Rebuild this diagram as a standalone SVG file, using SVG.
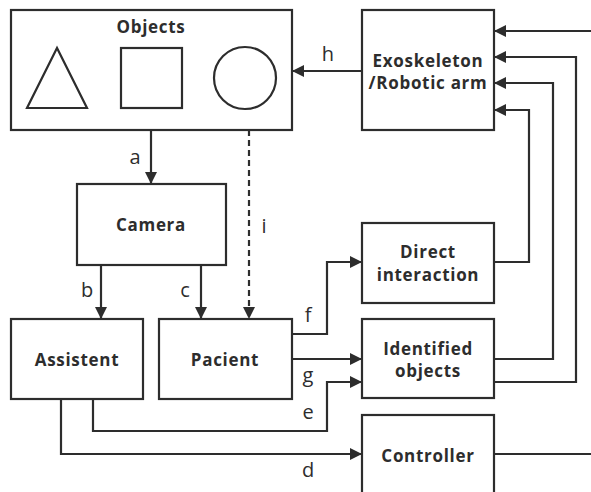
<svg xmlns="http://www.w3.org/2000/svg" width="591" height="492" viewBox="0 0 591 492">
<defs>
<marker id="ah" markerUnits="userSpaceOnUse" markerWidth="14" markerHeight="14" viewBox="0 0 14 14" refX="12" refY="7" orient="auto">
<path d="M0,1 L12,7 L0,13 Z" fill="#2d2d2d"/>
</marker>
<style>
.box{fill:none;stroke:#2d2d2d;stroke-width:2.2}
.ln{fill:none;stroke:#2d2d2d;stroke-width:2.2}
.arr{fill:none;stroke:#2d2d2d;stroke-width:2.2;marker-end:url(#ah)}
.t{font-family:"Open Sans","Noto Sans",sans-serif;font-weight:bold;font-size:17px;letter-spacing:0.7px;fill:#2d2d2d;text-anchor:middle}
.l{font-family:"Open Sans","Noto Sans",sans-serif;font-size:20px;fill:#2d2d2d;text-anchor:middle}
</style>
</defs>
<rect width="591" height="492" fill="#ffffff"/>
<g id="connectors">
<line class="arr" x1="151" y1="130" x2="151" y2="184"/>
<line class="arr" x1="101" y1="265" x2="101" y2="319"/>
<line class="arr" x1="201" y1="265" x2="201" y2="319"/>
<line class="arr" x1="249" y1="130" x2="249" y2="319" stroke-dasharray="6 4"/>
<line class="arr" x1="362" y1="71" x2="292" y2="71"/>
<line class="arr" x1="591" y1="31" x2="494" y2="31"/>
<polyline class="arr" points="494,382 576,382 576,57 494,57"/>
<polyline class="arr" points="494,359 553,359 553,83 494,83"/>
<polyline class="arr" points="494,262 529,262 529,110 494,110"/>
<polyline class="arr" points="292,334 327,334 327,262 362,262"/>
<line class="arr" x1="292" y1="359" x2="362" y2="359"/>
<polyline class="arr" points="93,399 93,431 327,431 327,382 362,382"/>
<polyline class="arr" points="61,399 61,454 362,454"/>
<line class="ln" x1="494" y1="454" x2="591" y2="454"/>
<text class="l" x="135" y="164">a</text>
<text class="l" x="87" y="297">b</text>
<text class="l" x="185" y="297">c</text>
<text class="l" x="264" y="233">i</text>
<text class="l" x="328" y="61">h</text>
<text class="l" x="308" y="322">f</text>
<text class="l" x="308" y="382">g</text>
<text class="l" x="308" y="419">e</text>
<text class="l" x="308" y="477">d</text>
</g>
<g id="objects">
<rect class="box" x="11" y="10" width="281" height="120"/>
<text class="t" x="151" y="33">Objects</text>
<polygon class="box" points="57,48 27,108 87,108"/>
<rect class="box" x="121" y="48" width="61" height="60"/>
<circle class="box" cx="245" cy="78" r="31"/>
</g>
<g id="exoskeleton">
<rect class="box" x="362" y="10" width="132" height="120"/>
<text class="t" x="428" y="67">Exoskeleton</text>
<text class="t" x="428" y="89">/Robotic arm</text>
</g>
<g id="camera">
<rect class="box" x="77" y="184" width="149" height="81"/>
<text class="t" x="151" y="231">Camera</text>
</g>
<g id="direct">
<rect class="box" x="362" y="223" width="132" height="80"/>
<text class="t" x="428" y="258">Direct</text>
<text class="t" x="428" y="281">interaction</text>
</g>
<g id="assistent">
<rect class="box" x="11" y="319" width="132" height="80"/>
<text class="t" x="77" y="366">Assistent</text>
</g>
<g id="pacient">
<rect class="box" x="159" y="319" width="133" height="80"/>
<text class="t" x="225" y="366">Pacient</text>
</g>
<g id="identified">
<rect class="box" x="362" y="319" width="132" height="79"/>
<text class="t" x="428" y="355">Identified</text>
<text class="t" x="428" y="377">objects</text>
</g>
<g id="controller">
<rect class="box" x="362" y="415" width="132" height="90"/>
<text class="t" x="428" y="462">Controller</text>
</g>
</svg>
